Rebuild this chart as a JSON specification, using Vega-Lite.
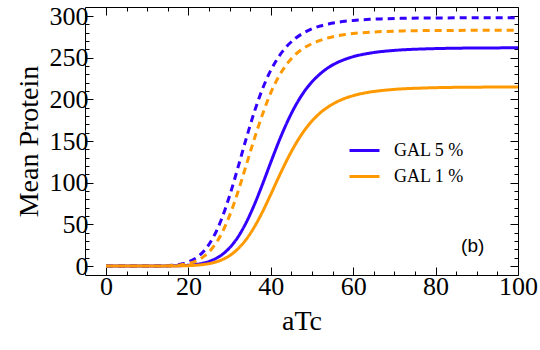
{
  "$schema": "https://vega.github.io/schema/vega-lite/v6.json",
  "width": 433,
  "height": 268,
  "autosize": "none",
  "padding": {"left": 85, "top": 7, "right": 22, "bottom": 75},
  "config": {
    "view": {"stroke": null},
    "axis": {
      "domainColor": "black", "tickColor": "black", "labelColor": "black", "titleColor": "black",
      "grid": false, "labelFont": "Times New Roman, Liberation Serif, serif", "titleFont": "Times New Roman, Liberation Serif, serif",
      "titleFontWeight": "normal", "domainWidth": 1, "tickWidth": 1, "labelFlush": false, "labelOverlap": false
    }
  },
  "data": {"values": [
    {"aTc": 0, "protein": 0, "gal": "GAL 5 %", "style": "solid"},
    {"aTc": 10, "protein": 0, "gal": "GAL 5 %", "style": "solid"},
    {"aTc": 16, "protein": 0.15, "gal": "GAL 5 %", "style": "solid"},
    {"aTc": 20, "protein": 0.9, "gal": "GAL 5 %", "style": "solid"},
    {"aTc": 22, "protein": 2.0, "gal": "GAL 5 %", "style": "solid"},
    {"aTc": 24, "protein": 3.9, "gal": "GAL 5 %", "style": "solid"},
    {"aTc": 26, "protein": 7.4, "gal": "GAL 5 %", "style": "solid"},
    {"aTc": 28, "protein": 13.0, "gal": "GAL 5 %", "style": "solid"},
    {"aTc": 30, "protein": 21.8, "gal": "GAL 5 %", "style": "solid"},
    {"aTc": 32, "protein": 34.5, "gal": "GAL 5 %", "style": "solid"},
    {"aTc": 34, "protein": 51.9, "gal": "GAL 5 %", "style": "solid"},
    {"aTc": 36, "protein": 73.5, "gal": "GAL 5 %", "style": "solid"},
    {"aTc": 38, "protein": 98.3, "gal": "GAL 5 %", "style": "solid"},
    {"aTc": 40, "protein": 124.5, "gal": "GAL 5 %", "style": "solid"},
    {"aTc": 42, "protein": 150.0, "gal": "GAL 5 %", "style": "solid"},
    {"aTc": 44, "protein": 172.9, "gal": "GAL 5 %", "style": "solid"},
    {"aTc": 46, "protein": 192.5, "gal": "GAL 5 %", "style": "solid"},
    {"aTc": 48, "protein": 208.5, "gal": "GAL 5 %", "style": "solid"},
    {"aTc": 50, "protein": 221.0, "gal": "GAL 5 %", "style": "solid"},
    {"aTc": 52, "protein": 230.7, "gal": "GAL 5 %", "style": "solid"},
    {"aTc": 54, "protein": 238.2, "gal": "GAL 5 %", "style": "solid"},
    {"aTc": 56, "protein": 243.8, "gal": "GAL 5 %", "style": "solid"},
    {"aTc": 58, "protein": 248.0, "gal": "GAL 5 %", "style": "solid"},
    {"aTc": 60, "protein": 251.2, "gal": "GAL 5 %", "style": "solid"},
    {"aTc": 64, "protein": 255.4, "gal": "GAL 5 %", "style": "solid"},
    {"aTc": 68, "protein": 257.9, "gal": "GAL 5 %", "style": "solid"},
    {"aTc": 72, "protein": 259.4, "gal": "GAL 5 %", "style": "solid"},
    {"aTc": 76, "protein": 260.3, "gal": "GAL 5 %", "style": "solid"},
    {"aTc": 80, "protein": 260.9, "gal": "GAL 5 %", "style": "solid"},
    {"aTc": 90, "protein": 261.6, "gal": "GAL 5 %", "style": "solid"},
    {"aTc": 100, "protein": 261.8, "gal": "GAL 5 %", "style": "solid"},

    {"aTc": 0, "protein": 0, "gal": "GAL 1 %", "style": "solid"},
    {"aTc": 10, "protein": 0, "gal": "GAL 1 %", "style": "solid"},
    {"aTc": 16, "protein": 0.07, "gal": "GAL 1 %", "style": "solid"},
    {"aTc": 20, "protein": 0.45, "gal": "GAL 1 %", "style": "solid"},
    {"aTc": 22, "protein": 1.0, "gal": "GAL 1 %", "style": "solid"},
    {"aTc": 24, "protein": 2.05, "gal": "GAL 1 %", "style": "solid"},
    {"aTc": 26, "protein": 3.9, "gal": "GAL 1 %", "style": "solid"},
    {"aTc": 28, "protein": 7.2, "gal": "GAL 1 %", "style": "solid"},
    {"aTc": 30, "protein": 12.4, "gal": "GAL 1 %", "style": "solid"},
    {"aTc": 32, "protein": 20.4, "gal": "GAL 1 %", "style": "solid"},
    {"aTc": 34, "protein": 31.7, "gal": "GAL 1 %", "style": "solid"},
    {"aTc": 36, "protein": 46.8, "gal": "GAL 1 %", "style": "solid"},
    {"aTc": 38, "protein": 65.2, "gal": "GAL 1 %", "style": "solid"},
    {"aTc": 40, "protein": 86.0, "gal": "GAL 1 %", "style": "solid"},
    {"aTc": 42, "protein": 107.5, "gal": "GAL 1 %", "style": "solid"},
    {"aTc": 44, "protein": 128.0, "gal": "GAL 1 %", "style": "solid"},
    {"aTc": 46, "protein": 146.2, "gal": "GAL 1 %", "style": "solid"},
    {"aTc": 48, "protein": 161.6, "gal": "GAL 1 %", "style": "solid"},
    {"aTc": 50, "protein": 174.0, "gal": "GAL 1 %", "style": "solid"},
    {"aTc": 52, "protein": 183.8, "gal": "GAL 1 %", "style": "solid"},
    {"aTc": 54, "protein": 191.2, "gal": "GAL 1 %", "style": "solid"},
    {"aTc": 56, "protein": 196.9, "gal": "GAL 1 %", "style": "solid"},
    {"aTc": 58, "protein": 201.2, "gal": "GAL 1 %", "style": "solid"},
    {"aTc": 60, "protein": 204.4, "gal": "GAL 1 %", "style": "solid"},
    {"aTc": 64, "protein": 208.7, "gal": "GAL 1 %", "style": "solid"},
    {"aTc": 68, "protein": 211.1, "gal": "GAL 1 %", "style": "solid"},
    {"aTc": 72, "protein": 212.6, "gal": "GAL 1 %", "style": "solid"},
    {"aTc": 76, "protein": 213.4, "gal": "GAL 1 %", "style": "solid"},
    {"aTc": 80, "protein": 214.0, "gal": "GAL 1 %", "style": "solid"},
    {"aTc": 90, "protein": 214.6, "gal": "GAL 1 %", "style": "solid"},
    {"aTc": 100, "protein": 214.8, "gal": "GAL 1 %", "style": "solid"},

    {"aTc": 0, "protein": 0, "gal": "GAL 5 %", "style": "dashed"},
    {"aTc": 10, "protein": 0.02, "gal": "GAL 5 %", "style": "dashed"},
    {"aTc": 14, "protein": 0.3, "gal": "GAL 5 %", "style": "dashed"},
    {"aTc": 16, "protein": 0.9, "gal": "GAL 5 %", "style": "dashed"},
    {"aTc": 18, "protein": 2.2, "gal": "GAL 5 %", "style": "dashed"},
    {"aTc": 20, "protein": 4.9, "gal": "GAL 5 %", "style": "dashed"},
    {"aTc": 22, "protein": 10.1, "gal": "GAL 5 %", "style": "dashed"},
    {"aTc": 24, "protein": 19.3, "gal": "GAL 5 %", "style": "dashed"},
    {"aTc": 26, "protein": 34.1, "gal": "GAL 5 %", "style": "dashed"},
    {"aTc": 28, "protein": 55.8, "gal": "GAL 5 %", "style": "dashed"},
    {"aTc": 30, "protein": 84.3, "gal": "GAL 5 %", "style": "dashed"},
    {"aTc": 32, "protein": 117.7, "gal": "GAL 5 %", "style": "dashed"},
    {"aTc": 34, "protein": 152.4, "gal": "GAL 5 %", "style": "dashed"},
    {"aTc": 36, "protein": 184.9, "gal": "GAL 5 %", "style": "dashed"},
    {"aTc": 38, "protein": 212.7, "gal": "GAL 5 %", "style": "dashed"},
    {"aTc": 40, "protein": 234.9, "gal": "GAL 5 %", "style": "dashed"},
    {"aTc": 42, "protein": 251.7, "gal": "GAL 5 %", "style": "dashed"},
    {"aTc": 44, "protein": 264.2, "gal": "GAL 5 %", "style": "dashed"},
    {"aTc": 46, "protein": 273.3, "gal": "GAL 5 %", "style": "dashed"},
    {"aTc": 48, "protein": 279.8, "gal": "GAL 5 %", "style": "dashed"},
    {"aTc": 50, "protein": 284.6, "gal": "GAL 5 %", "style": "dashed"},
    {"aTc": 52, "protein": 288.0, "gal": "GAL 5 %", "style": "dashed"},
    {"aTc": 54, "protein": 290.5, "gal": "GAL 5 %", "style": "dashed"},
    {"aTc": 56, "protein": 292.3, "gal": "GAL 5 %", "style": "dashed"},
    {"aTc": 58, "protein": 293.7, "gal": "GAL 5 %", "style": "dashed"},
    {"aTc": 60, "protein": 294.6, "gal": "GAL 5 %", "style": "dashed"},
    {"aTc": 64, "protein": 296.0, "gal": "GAL 5 %", "style": "dashed"},
    {"aTc": 68, "protein": 296.7, "gal": "GAL 5 %", "style": "dashed"},
    {"aTc": 72, "protein": 297.2, "gal": "GAL 5 %", "style": "dashed"},
    {"aTc": 80, "protein": 297.6, "gal": "GAL 5 %", "style": "dashed"},
    {"aTc": 90, "protein": 297.9, "gal": "GAL 5 %", "style": "dashed"},
    {"aTc": 100, "protein": 298.0, "gal": "GAL 5 %", "style": "dashed"},

    {"aTc": 0, "protein": 0, "gal": "GAL 1 %", "style": "dashed"},
    {"aTc": 10, "protein": 0.01, "gal": "GAL 1 %", "style": "dashed"},
    {"aTc": 14, "protein": 0.17, "gal": "GAL 1 %", "style": "dashed"},
    {"aTc": 16, "protein": 0.5, "gal": "GAL 1 %", "style": "dashed"},
    {"aTc": 18, "protein": 1.3, "gal": "GAL 1 %", "style": "dashed"},
    {"aTc": 20, "protein": 3.0, "gal": "GAL 1 %", "style": "dashed"},
    {"aTc": 22, "protein": 6.3, "gal": "GAL 1 %", "style": "dashed"},
    {"aTc": 24, "protein": 12.4, "gal": "GAL 1 %", "style": "dashed"},
    {"aTc": 26, "protein": 22.6, "gal": "GAL 1 %", "style": "dashed"},
    {"aTc": 28, "protein": 38.3, "gal": "GAL 1 %", "style": "dashed"},
    {"aTc": 30, "protein": 60.5, "gal": "GAL 1 %", "style": "dashed"},
    {"aTc": 32, "protein": 88.6, "gal": "GAL 1 %", "style": "dashed"},
    {"aTc": 34, "protein": 120.4, "gal": "GAL 1 %", "style": "dashed"},
    {"aTc": 36, "protein": 152.6, "gal": "GAL 1 %", "style": "dashed"},
    {"aTc": 38, "protein": 182.1, "gal": "GAL 1 %", "style": "dashed"},
    {"aTc": 40, "protein": 208.0, "gal": "GAL 1 %", "style": "dashed"},
    {"aTc": 42, "protein": 228.0, "gal": "GAL 1 %", "style": "dashed"},
    {"aTc": 44, "protein": 243.0, "gal": "GAL 1 %", "style": "dashed"},
    {"aTc": 46, "protein": 254.0, "gal": "GAL 1 %", "style": "dashed"},
    {"aTc": 48, "protein": 261.5, "gal": "GAL 1 %", "style": "dashed"},
    {"aTc": 50, "protein": 266.8, "gal": "GAL 1 %", "style": "dashed"},
    {"aTc": 52, "protein": 270.8, "gal": "GAL 1 %", "style": "dashed"},
    {"aTc": 54, "protein": 273.9, "gal": "GAL 1 %", "style": "dashed"},
    {"aTc": 56, "protein": 276.1, "gal": "GAL 1 %", "style": "dashed"},
    {"aTc": 58, "protein": 277.8, "gal": "GAL 1 %", "style": "dashed"},
    {"aTc": 60, "protein": 279.0, "gal": "GAL 1 %", "style": "dashed"},
    {"aTc": 64, "protein": 280.6, "gal": "GAL 1 %", "style": "dashed"},
    {"aTc": 68, "protein": 281.5, "gal": "GAL 1 %", "style": "dashed"},
    {"aTc": 72, "protein": 282.1, "gal": "GAL 1 %", "style": "dashed"},
    {"aTc": 80, "protein": 282.6, "gal": "GAL 1 %", "style": "dashed"},
    {"aTc": 90, "protein": 282.8, "gal": "GAL 1 %", "style": "dashed"},
    {"aTc": 100, "protein": 283.0, "gal": "GAL 1 %", "style": "dashed"}
  ]},
  "layer": [
    {
      "mark": {"type": "line", "strokeWidth": 3, "interpolate": "monotone", "clip": true},
      "encoding": {
        "x": {
          "field": "aTc", "type": "quantitative",
          "scale": {"domain": [-5.1, 100], "nice": false, "zero": false},
          "axis": {
            "orient": "bottom", "title": "aTc",
            "values": [0,5,10,15,20,25,30,35,40,45,50,55,60,65,70,75,80,85,90,95,100],
            "labelExpr": "datum.value % 20 === 0 ? datum.label : ''",
            "tickSize": {"expr": "datum.value % 20 === 0 ? -8 : -4"},
            "labelFontSize": 26, "titleFontSize": 28, "labelPadding": 6, "titlePadding": 4
          }
        },
        "y": {
          "field": "protein", "type": "quantitative",
          "scale": {"domain": [-10.8, 310.8], "nice": false, "zero": false},
          "axis": {
            "orient": "left", "title": "Mean Protein",
            "values": [0,10,20,30,40,50,60,70,80,90,100,110,120,130,140,150,160,170,180,190,200,210,220,230,240,250,260,270,280,290,300],
            "labelExpr": "datum.value % 50 === 0 ? datum.label : ''",
            "tickSize": {"expr": "datum.value % 50 === 0 ? -8 : -4"},
            "labelFontSize": 26, "titleFontSize": 28, "labelPadding": 5, "titlePadding": 6
          }
        },
        "color": {
          "field": "gal", "type": "nominal",
          "scale": {"domain": ["GAL 5 %", "GAL 1 %"], "range": ["#3300ff", "#ff9900"]},
          "legend": {
            "orient": "none", "legendX": 263, "legendY": 127, "title": null,
            "symbolType": "stroke", "symbolSize": 900, "symbolStrokeWidth": 3,
            "labelFont": "Times New Roman, Liberation Serif, serif", "labelFontSize": 18, "labelColor": "black",
            "labelOffset": 13, "rowPadding": 0, "padding": 0
          }
        },
        "strokeDash": {
          "field": "style", "type": "nominal",
          "scale": {"domain": ["solid", "dashed"], "range": [[1, 0], [7, 5]]},
          "legend": null
        }
      }
    },
    {
      "data": {"values": [{"note": "(b)"}]},
      "mark": {"type": "text", "font": "Arial, Liberation Sans, sans-serif", "fontSize": 19, "color": "black"},
      "encoding": {
        "x": {
          "datum": 89, "type": "quantitative",
          "axis": {
            "orient": "top", "title": null, "labels": false,
            "values": [0,5,10,15,20,25,30,35,40,45,50,55,60,65,70,75,80,85,90,95,100],
            "tickSize": {"expr": "datum.value % 20 === 0 ? -8 : -4"}
          }
        },
        "y": {
          "datum": 24, "type": "quantitative",
          "axis": {
            "orient": "right", "title": null, "labels": false,
            "values": [0,10,20,30,40,50,60,70,80,90,100,110,120,130,140,150,160,170,180,190,200,210,220,230,240,250,260,270,280,290,300],
            "tickSize": {"expr": "datum.value % 50 === 0 ? -8 : -4"}
          }
        },
        "text": {"field": "note"}
      }
    }
  ],
  "resolve": {"axis": {"x": "independent", "y": "independent"}}
}
